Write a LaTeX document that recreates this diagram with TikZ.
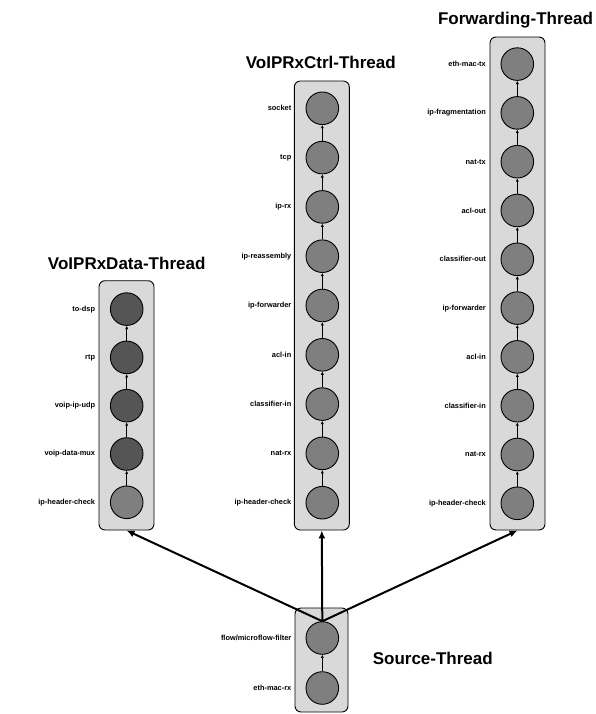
\documentclass[tikz,border=0pt]{standalone}
\usepackage{fontspec}
\setmainfont{Liberation Sans}
\usetikzlibrary{arrows.meta}
\definecolor{boxgray}{HTML}{D9D9D9}
\definecolor{modgray}{HTML}{7F7F7F}
\definecolor{darkmod}{HTML}{555555}
\tikzset{
  threadbox/.style={draw=black, line width=0.9pt, fill=boxgray, rounded corners=6pt, inner sep=0pt},
  module/.style={circle, draw=black, line width=0.9pt, fill=modgray, minimum size=32.6pt, inner sep=0pt},
  darkmodule/.style={module, fill=darkmod},
  modlabel/.style={anchor=east, font=\bfseries\fontsize{7.4}{8}\selectfont, inner sep=0pt},
  title/.style={font=\bfseries\fontsize{17}{19}\selectfont, inner sep=0pt},
  flow/.style={line width=0.8pt, -{Latex[length=3.2pt,width=3.2pt]}},
  dispatch/.style={line width=2pt, -{Latex[length=8pt,width=7pt]}}
}
\begin{document}
\begin{tikzpicture}[x=1pt, y=-1pt]
\useasboundingbox (0,0) rectangle (596,714);

% thread containers
\node[threadbox, minimum width=55pt, minimum height=249.3pt] (dataBox) at (126.5,405.35) {};
\node[threadbox, minimum width=55pt, minimum height=449pt] (ctrlBox) at (321.8,305.5) {};
\node[threadbox, minimum width=55pt, minimum height=493pt] (fwdBox) at (517.5,283.5) {};
\node[threadbox, minimum width=53pt, minimum height=104pt] (srcBox) at (321.5,660) {};

% thread titles
\node[title] (dataTitle) at (126.7,263) {VoIPRxData-Thread};
\node[title] (ctrlTitle) at (320.8,62) {VoIPRxCtrl-Thread};
\node[title] (fwdTitle) at (515.5,20) {Forwarding-Thread};
\node[title] (srcTitle) at (432.8,658) {Source-Thread};

% VoIPRxData-Thread modules (bottom to top)
\foreach \i/\name/\sty in {0/ip-header-check/module, 1/voip-data-mux/darkmodule,
    2/voip-ip-udp/darkmodule, 3/rtp/darkmodule, 4/to-dsp/darkmodule} {
  \node[\sty] (d\i) at (126.7,{502.3-48.3*\i}) {};
  \node[modlabel] (dl\i) at (95.3,{502.3-48.3*\i}) {\name};
}
\foreach \i [evaluate=\i as \j using int(\i+1)] in {0,...,3}
  \draw[flow] (d\i) -- (d\j);

% VoIPRxCtrl-Thread modules
\foreach \i/\name in {0/ip-header-check, 1/nat-rx, 2/classifier-in, 3/acl-in,
    4/ip-forwarder, 5/ip-reassembly, 6/ip-rx, 7/tcp, 8/socket} {
  \node[module] (c\i) at (322.3,{502.7-49.3*\i}) {};
  \node[modlabel] (cl\i) at (291.5,{502.7-49.3*\i}) {\name};
}
\foreach \i [evaluate=\i as \j using int(\i+1)] in {0,...,7}
  \draw[flow] (c\i) -- (c\j);

% Forwarding-Thread modules
\foreach \i/\name in {0/ip-header-check, 1/nat-rx, 2/classifier-in, 3/acl-in,
    4/ip-forwarder, 5/classifier-out, 6/acl-out, 7/nat-tx, 8/ip-fragmentation, 9/eth-mac-tx} {
  \node[module] (f\i) at (517.3,{503.3-48.8*\i}) {};
  \node[modlabel] (fl\i) at (486,{503.3-48.8*\i}) {\name};
}
\foreach \i [evaluate=\i as \j using int(\i+1)] in {0,...,8}
  \draw[flow] (f\i) -- (f\j);

% Source-Thread modules
\node[module] (s0) at (322.3,688) {};
\node[modlabel] (sl0) at (291.5,688) {eth-mac-rx};
\node[module] (s1) at (322.3,638) {};
\node[modlabel] (sl1) at (291.5,638) {flow/microflow-filter};
\draw[flow] (s0) -- (s1);

% dispatch from the source thread to the worker threads
\draw[dispatch] (s1.north) -- (dataBox.south);
\draw[dispatch] (s1.north) -- (ctrlBox.south);
\draw[dispatch] (s1.north) -- (fwdBox.south);
\end{tikzpicture}
\end{document}
